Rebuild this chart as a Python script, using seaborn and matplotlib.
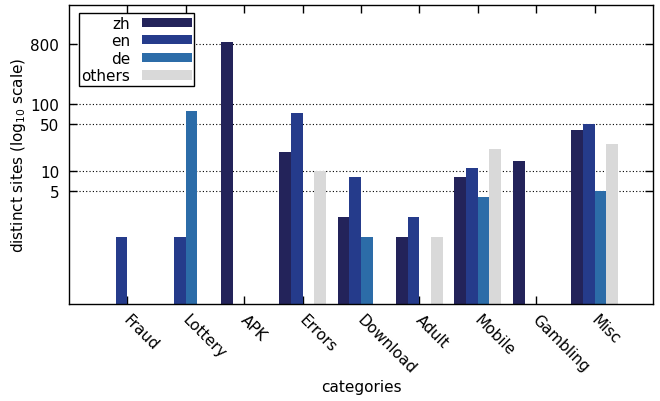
import numpy as np
import pandas as pd
import matplotlib
matplotlib.use("Agg")
import matplotlib.pyplot as plt
import matplotlib.transforms as mtransforms
from matplotlib.ticker import FixedLocator, NullLocator
import seaborn as sns

# data (None = no bar)
categories = ["Fraud", "Lottery", "APK", "Errors", "Download", "Adult", "Mobile", "Gambling", "Misc"]
langs = ["zh", "en", "de", "others"]
zh = [None, None, 850, 19, 2, 1, 8, 14, 41]
en = [1, 1, None, 73, 8, 2, 11, None, 50]
de = [None, 78, None, None, 1, None, 4, None, 5]
others = [None, None, None, 10, None, 1, 21, None, 25]
yticks = [5, 10, 50, 100, 800]

colors = ["#23235a", "#253b8b", "#2c6ca8", "#d9d9d9"]

rows = []
for lang, vals in zip(langs, [zh, en, de, others]):
    for cat, v in zip(categories, vals):
        if v is not None:
            rows.append({"category": cat, "lang": lang, "sites": v})
df = pd.DataFrame(rows)

sns.set_style("ticks")
plt.rcParams["font.family"] = ["DejaVu Sans"]
plt.rcParams["text.color"] = "black"
plt.rcParams["axes.labelcolor"] = "black"
plt.rcParams["xtick.color"] = "black"
plt.rcParams["ytick.color"] = "black"
fs = 11

fig = plt.figure(figsize=(6.6, 4.02), dpi=100)
ax = fig.add_axes([69 / 660, 97 / 402, 584 / 660, 298.7 / 402])
ax.set_yscale("log")

sns.barplot(data=df, x="category", y="sites", hue="lang",
            order=categories, hue_order=langs, palette=colors,
            width=0.8, saturation=1, linewidth=0, edgecolor="none", ax=ax)

ax.set_ylim(0.1, 3000)
ax.set_xlim(-1, len(categories))
ax.yaxis.set_major_locator(FixedLocator(yticks))
ax.yaxis.set_minor_locator(NullLocator())
ax.set_yticklabels([str(t) for t in yticks])
ax.grid(axis="y", color="black", linestyle=(0, (1, 2)), linewidth=0.8)
ax.set_axisbelow(True)

ax.tick_params(direction="in", length=6, width=1, top=True, right=True, labelsize=fs)
ax.tick_params(axis="y", pad=7)
for s in ax.spines.values():
    s.set_visible(True)
    s.set_linewidth(1)
    s.set_color("black")

offset = mtransforms.ScaledTranslation(4 / 100, -3 / 100, fig.dpi_scale_trans)
for lbl in ax.get_xticklabels():
    lbl.set_rotation(-45)
    lbl.set_ha("left")
    lbl.set_va("top")
    lbl.set_rotation_mode("anchor")
    lbl.set_transform(lbl.get_transform() + offset)

ax.set_xlabel("categories", fontsize=fs, labelpad=2)
ax.set_ylabel("distinct sites (log$_{10}$ scale)", fontsize=fs, labelpad=2)

leg = ax.legend(loc="upper left", bbox_to_anchor=(10 / 584, 1 - 8 / 298.7),
                markerfirst=False, frameon=True, fancybox=False,
                handlelength=3.3, handleheight=0.55, handletextpad=0.75,
                labelspacing=0.17, borderpad=0.15, borderaxespad=0, fontsize=fs)
leg.get_frame().set_edgecolor("black")
leg.get_frame().set_linewidth(1)
leg.get_frame().set_alpha(1)
leg.set_zorder(5)

fig.savefig("out.png", dpi=100)
